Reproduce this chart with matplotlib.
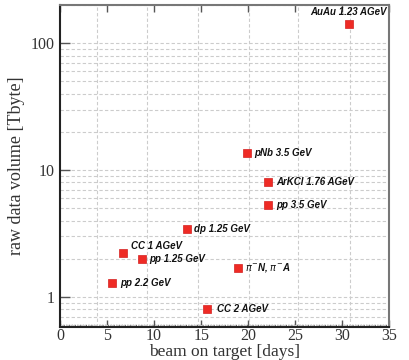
import numpy as np
import matplotlib
matplotlib.use('Agg')
from matplotlib import pyplot as plt
from matplotlib.ticker import FixedLocator, LogLocator, NullFormatter

# beam time [days] and raw data volume [Tbyte] per HADES run
runs = ['AuAu 1.23 AGeV', 'pNb 3.5 GeV', 'ArKCl 1.76 AGeV', 'pp 3.5 GeV',
        'dp 1.25 GeV', 'CC 1 AGeV', 'pp 1.25 GeV', r'$\pi^{-}$N, $\pi^{-}$A',
        'pp 2.2 GeV', 'CC 2 AGeV']
days = [30.7, 19.9, 22.1, 22.1, 13.5, 6.7, 8.7, 18.9, 5.5, 15.6]
volume = [141, 13.6, 8.0, 5.35, 3.42, 2.21, 2.0, 1.70, 1.30, 0.80]

# label offsets in points (dx, dy) and horizontal alignment
offsets = [(0, 9, 'center'), (5, 0, 'left'), (6, 0, 'left'), (6, 0, 'left'),
           (5, 0, 'left'), (6, 5, 'left'), (5, 0, 'left'), (5, 0, 'left'),
           (6, 0, 'left'), (7, 0, 'left')]

# vertical grid lines sit off the tick positions in the original
xgrid = [3.9, 9.2, 14.7, 20.1, 25.3, 30.8]

serif = ['Liberation Serif', 'DejaVu Serif']

fig = plt.figure(figsize=(4.09, 3.6), dpi=100)
ax = fig.add_axes([0.1467, 0.0917, 0.8053, 0.8943])

ax.set_yscale('log')
ax.set_xlim(0, 35)
ax.set_ylim(0.58, 200)

ax.xaxis.set_major_locator(FixedLocator(np.arange(0, 36, 5)))
ax.xaxis.set_minor_locator(FixedLocator(xgrid))
ax.yaxis.set_major_locator(FixedLocator([1, 10, 100]))
ax.yaxis.set_minor_locator(LogLocator(base=10, subs=np.arange(2, 10)))
ax.yaxis.set_minor_formatter(NullFormatter())
ax.set_yticklabels(['1', '10', '100'])

ax.grid(True, which='minor', axis='x', color='#cccccc', ls=(0, (3, 2)), lw=0.8)
ax.grid(True, which='both', axis='y', color='#cccccc', ls=(0, (3, 2)), lw=0.8)
ax.axhline(0.6, color='#555555', ls=(0, (1, 1)), lw=1.0, zorder=1.5)

ax.tick_params(which='major', axis='x', direction='in', top=True, bottom=True,
               length=5, width=1.0, color='#555555', pad=1)
ax.tick_params(which='major', axis='y', direction='in', left=True, right=False,
               length=7, width=1.0, color='#555555', pad=4)
ax.tick_params(which='minor', length=0)

for lab in ax.get_xticklabels() + ax.get_yticklabels():
    lab.set_family(serif)
    lab.set_fontsize(11.5)
    lab.set_color('#333333')

for side in ['left', 'bottom']:
    ax.spines[side].set_linewidth(1.5)
    ax.spines[side].set_color('#222222')
for side in ['top', 'right']:
    ax.spines[side].set_linewidth(1.5)
    ax.spines[side].set_color('#777777')

ax.plot(days, volume, ls='none', marker='s', ms=5.5, color='#ee2b25',
        mec='#d42020', mew=0.5, zorder=3)

for name, x, y, (dx, dy, ha) in zip(runs, days, volume, offsets):
    ax.annotate(name, (x, y), xytext=(dx, dy), textcoords='offset points',
                ha=ha, va='center', fontsize=7, fontweight='bold',
                fontstyle='italic', family=['Liberation Sans', 'DejaVu Sans'],
                color='#111111', zorder=4)

ax.set_xlabel('beam on target [days]', family=serif, fontsize=12.5,
              color='#333333', labelpad=0)
ax.set_ylabel('raw data volume [Tbyte]', family=serif, fontsize=13,
              color='#333333', labelpad=4)

fig.savefig('out.png', dpi=100)
